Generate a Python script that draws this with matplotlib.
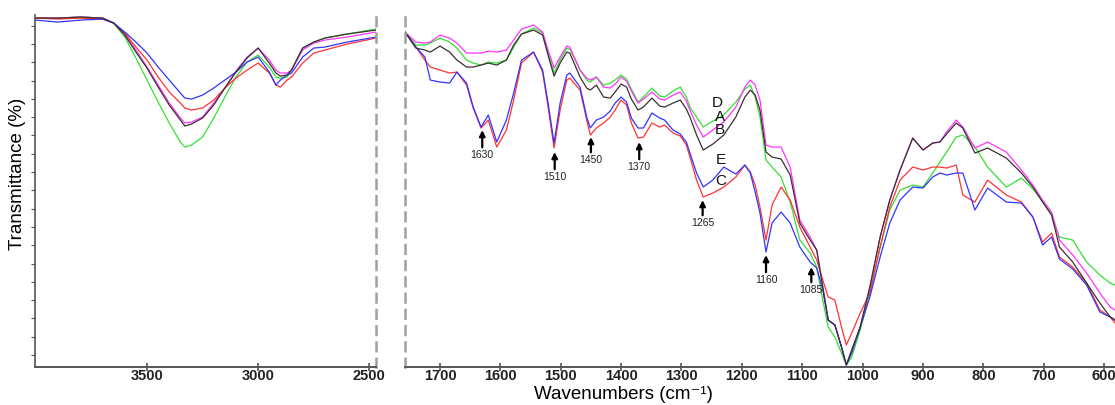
import numpy as np
import matplotlib.pyplot as plt

plt.rcParams['font.family'] = ['Liberation Sans', 'DejaVu Sans']

# wavenumbers (cm-1) and transmittance (arbitrary units)
# left panel: 4000 - 2470
wn_left = [4004, 3900, 3800, 3700, 3650, 3600, 3550, 3500, 3450, 3400, 3350, 3330, 3300,
           3250, 3200, 3150, 3100, 3050, 3000, 2950, 2920, 2900, 2870, 2850, 2800, 2750,
           2700, 2600, 2470]
a_left = [349, 349, 350, 349, 344, 333, 317, 300, 282, 264, 249, 244, 245, 250, 264, 279,
          296, 310, 319, 307, 297, 294, 294, 297, 317, 324, 327, 330, 335]
b_left = [349, 349, 350, 349, 344, 332, 315, 299, 280, 262, 247, 241, 243, 249, 262, 279,
          295, 309, 319, 304, 294, 291, 292, 297, 319, 325, 329, 333, 337]
c_left = [349, 348, 349, 348, 344, 334, 320, 307, 290, 275, 264, 259, 257, 259, 267, 279,
          289, 297, 304, 294, 282, 280, 287, 290, 304, 314, 317, 323, 329]
d_left = [349, 349, 350, 349, 344, 330, 309, 287, 265, 244, 225, 220, 222, 230, 249, 270,
          290, 305, 312, 300, 290, 289, 290, 297, 319, 325, 329, 333, 338]
e_left = [347, 345, 347, 348, 344, 335, 325, 314, 300, 287, 274, 269, 268, 272, 279, 287,
          295, 305, 310, 295, 282, 287, 292, 294, 310, 319, 320, 325, 330]

# right panel: 1758 - 582
wn_right = [1758, 1740, 1725, 1716, 1700, 1684, 1672, 1656, 1645, 1632, 1620, 1606, 1590,
            1578, 1565, 1545, 1530, 1521, 1511, 1501, 1490, 1485, 1468, 1457, 1451,
            1441, 1429, 1418, 1410, 1400, 1391, 1383, 1372, 1363, 1349, 1336, 1328, 1314,
            1302, 1292, 1286, 1275, 1264, 1248, 1230, 1210, 1195, 1186, 1178, 1170, 1160,
            1150, 1135, 1120,
            1104, 1087, 1076, 1066, 1057, 1046, 1035, 1027, 1018, 1004, 988, 971, 955, 938,
            917, 900, 884, 872, 861, 845, 834, 814, 793, 762, 737, 718, 702, 687, 674, 652,
            629, 607, 590, 582]
a_right = [335, 325, 324, 325, 332, 329, 324, 314, 314, 314, 316, 315, 317, 327, 338, 342,
           335, 317, 299, 310, 321, 320, 297, 289, 287,
           290, 280, 279, 283, 290, 286, 276, 264, 268, 275, 268, 267, 272, 275, 266, 257,
           242, 230, 237, 245, 260, 280, 287, 282, 267, 222, 220, 220, 200,
           147, 130, 117, 80, 47, 42, 20, 2, 17, 40, 80, 130, 167, 197, 229, 217, 224, 225,
           235, 247, 240, 219, 225, 215, 197, 182, 167, 155, 127, 112, 94, 74, 60, 57]
b_right = [335, 319, 317, 315, 321, 315, 307, 300, 300, 302, 304, 302, 307, 322, 333, 337,
           332, 312, 291, 304, 315, 314, 290, 279, 277,
           282, 270, 269, 275, 283, 280, 268, 257, 260, 269, 261, 260, 264, 267, 258, 250,
           232, 217, 223, 232, 250, 270, 277, 272, 257, 215, 210, 208, 192,
           144, 127, 117, 80, 47, 42, 20, 2, 17, 40, 80, 130, 167, 197, 229, 217, 224, 225,
           233, 244, 239, 214, 219, 209, 194, 180, 165, 152, 120, 105, 84, 64, 50, 47]
c_right = [335, 320, 307, 300, 297, 294, 295, 282, 259, 239, 247, 220, 237, 267, 304, 315,
           295, 260, 219, 257, 287, 289, 277, 247, 232,
           239, 244, 250, 257, 267, 262, 244, 229, 230, 244, 240, 242, 234, 231, 222, 210,
           187, 170, 174, 180, 190, 202, 195, 182, 160, 127, 162, 180, 167,
           140, 120, 107, 87, 70, 67, 40, 22, 34, 54, 74, 120, 160, 187, 200, 197, 200, 200,
           199, 202, 172, 165, 187, 172, 165, 150, 125, 134, 110, 100, 84, 57, 50, 44]
d_right = [335, 322, 322, 324, 329, 325, 319, 307, 304, 302, 305, 304, 307, 320, 333, 339,
           334, 314, 294, 307, 319, 318, 297, 287, 285,
           290, 282, 284, 287, 292, 288, 278, 265, 270, 279, 271, 270, 276, 280, 270, 260,
           250, 240, 246, 252, 265, 278, 282, 270, 250, 207, 200, 190, 165,
           127, 114, 100, 67, 40, 30, 14, 2, 10, 37, 74, 120, 157, 177, 182, 180, 194, 205,
           215, 230, 232, 220, 200, 180, 189, 178, 166, 152, 130, 127, 105, 92, 84, 82]
e_right = [335, 320, 310, 287, 285, 284, 295, 284, 260, 240, 252, 225, 247, 274, 307, 315,
           297, 264, 224, 264, 292, 294, 280, 250, 239,
           247, 250, 256, 264, 270, 265, 249, 239, 239, 254, 249, 247, 237, 233, 225, 214,
           194, 180, 187, 200, 193, 202, 194, 175, 154, 115, 144, 155, 144,
           120, 105, 99, 77, 47, 42, 20, 2, 14, 40, 70, 110, 144, 167, 180, 179, 190, 194,
           192, 194, 194, 157, 179, 165, 164, 150, 122, 130, 108, 98, 82, 55, 50, 47]

# peak markers
peak_wn = [1630, 1510, 1450, 1370, 1265, 1160, 1085]
peak_tip = [237, 215, 230, 225, 167, 112, 100]
peak_tail = [217, 195, 212, 205, 149, 92, 82]

# curve letters
letters = ['D', 'A', 'B', 'E', 'C']
letter_wn = [1240, 1236, 1236, 1235, 1235]
letter_y = [264, 250, 237, 207, 186]

colors = {'A': '#ff33ff', 'B': '#3a3030', 'C': '#ff3333', 'D': '#33e033', 'E': '#3333ff'}
axis_col = '#555555'
dash_col = '#a0a0a0'

fig = plt.figure(figsize=(11.15, 4.05), dpi=100)
ax1 = fig.add_axes([0.0314, 0.0938, 0.3058, 0.869])
ax2 = fig.add_axes([0.3632, 0.0938, 0.6368, 0.869])

left_sets = [('D', d_left), ('A', a_left), ('C', c_left), ('E', e_left), ('B', b_left)]
right_sets = [('D', d_right), ('A', a_right), ('C', c_right), ('E', e_right), ('B', b_right)]
for key, vals in left_sets:
    ax1.plot(wn_left, vals, color=colors[key], lw=0.9)
for key, vals in right_sets:
    ax2.plot(wn_right, vals, color=colors[key], lw=0.9)

ax1.set_xlim(4004, 2470)
ax2.set_xlim(1758, 582)
for ax in (ax1, ax2):
    ax.set_ylim(0, 352)
    ax.spines['top'].set_visible(False)
    ax.spines['bottom'].set_color(axis_col)
    ax.spines['bottom'].set_linewidth(1.4)
    ax.tick_params(axis='x', direction='inout', length=6, width=1.2, color=axis_col,
                   labelsize=10.5, pad=-1.5)

ax1.set_xticks([3500, 3000, 2500])
ax1.set_xticklabels(['3500', '3000', '2500'], fontweight='bold', color='#222222')
ax1.spines['left'].set_color(axis_col)
ax1.spines['left'].set_linewidth(1.2)
ax1.spines['right'].set_color(dash_col)
ax1.spines['right'].set_linewidth(1.8)
ax1.spines['right'].set_linestyle((0, (3.5, 3)))
ax1.set_yticks(np.arange(12, 350, 18.3))
ax1.tick_params(axis='y', direction='out', length=3, width=0.8, color=axis_col,
                labelleft=False)

xt = [1700, 1600, 1500, 1400, 1300, 1200, 1100, 1000, 900, 800, 700, 600]
ax2.set_xticks(xt)
ax2.set_xticklabels([str(v) for v in xt], fontweight='bold', color='#222222')
ax2.spines['right'].set_visible(False)
ax2.spines['left'].set_color(dash_col)
ax2.spines['left'].set_linewidth(1.8)
ax2.spines['left'].set_linestyle((0, (3.5, 3)))
ax2.set_yticks([])

for w, tip, tail in zip(peak_wn, peak_tip, peak_tail):
    ax2.annotate(str(w), xy=(w, tip), xytext=(w, tail), ha='center', va='top',
                 fontsize=7.5, color='#222222',
                 arrowprops=dict(arrowstyle='-|>,head_length=0.45,head_width=0.22',
                                 color='black', lw=1.6, shrinkA=0, shrinkB=0))

for t, w, y in zip(letters, letter_wn, letter_y):
    ax2.text(w, y, t, ha='center', va='center', fontsize=11, color='#111111')

fig.text(0.559, 0.004, 'Wavenumbers (cm⁻¹)', ha='center', va='bottom', fontsize=13.5)
fig.text(0.016, 0.57, 'Transmittance (%)', ha='center', va='center', rotation=90,
         fontsize=13.5)

fig.savefig('out.png', dpi=100)
